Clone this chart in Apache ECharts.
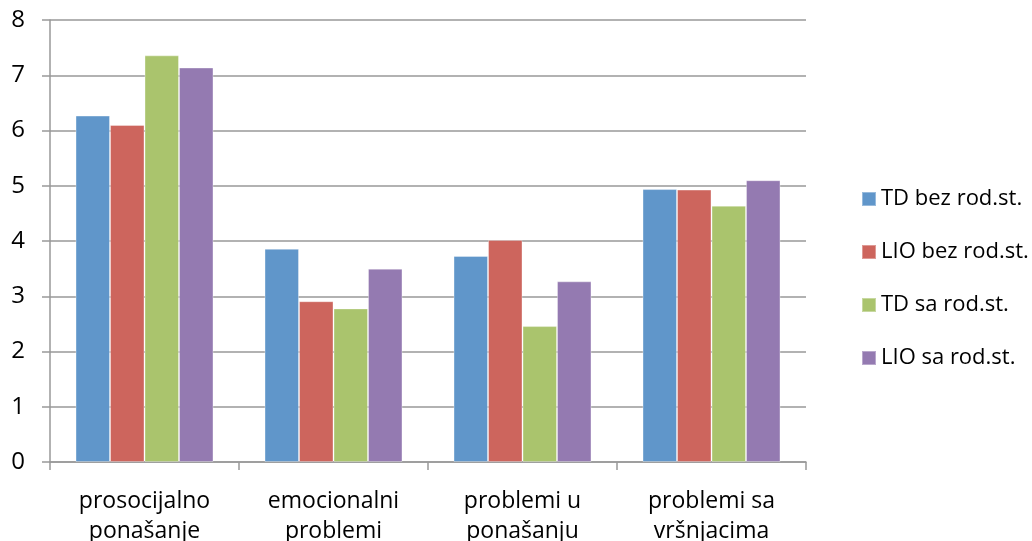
<!DOCTYPE html>
<html>
<head>
<meta charset="utf-8">
<script src="https://cdn.jsdelivr.net/npm/echarts@6/dist/echarts.min.js"></script>
<style>
  html, body { margin: 0; padding: 0; background: #fff; }
  #chart { width: 1032px; height: 541px; }
</style>
</head>
<body>
<div id="chart"></div>
<script>
// data
var categories = ['prosocijalno\nponašanje', 'emocionalni\nproblemi', 'problemi u\nponašanju', 'problemi sa\nvršnjacima']
var seriesNames = ['TD bez rod.st.', 'LIO bez rod.st.', 'TD sa rod.st.', 'LIO sa rod.st.']
var tdBez = [6.27, 3.86, 3.73, 4.94]
var lioBez = [6.10, 2.91, 4.02, 4.93]
var tdSa = [7.36, 2.78, 2.46, 4.64]
var lioSa = [7.14, 3.50, 3.27, 5.10]
var yTicks = [0, 1, 2, 3, 4, 5, 6, 7, 8]

var colors = ['#6096CA', '#CD655D', '#AAC46D', '#947AB1']
var values = [tdBez, lioBez, tdSa, lioSa]
var font = '"Open Sans", sans-serif'

var chart = echarts.init(document.getElementById('chart'))

var option = {
  animation: false,
  color: colors,
  grid: {
    left: 50,
    right: 226,
    top: 20,
    bottom: 79,
    outerBoundsMode: 'none'
  },
  legend: {
    orient: 'vertical',
    left: 856,
    top: 183,
    itemWidth: 14,
    itemHeight: 14,
    itemGap: 31,
    icon: 'rect',
    textStyle: {
      fontFamily: font,
      fontSize: 22,
      lineHeight: 22,
      color: '#000'
    },
    data: seriesNames
  },
  xAxis: {
    type: 'category',
    data: categories,
    axisLine: { lineStyle: { color: '#999', width: 1.5 } },
    axisTick: { show: true, length: 8, lineStyle: { color: '#999', width: 1.5 } },
    axisLabel: {
      margin: 24,
      fontFamily: font,
      fontSize: 23,
      lineHeight: 30,
      color: '#000'
    }
  },
  yAxis: {
    type: 'value',
    min: yTicks[0],
    max: yTicks[yTicks.length - 1],
    interval: 1,
    axisLine: { show: true, lineStyle: { color: '#999', width: 1.5 } },
    axisTick: { show: true, length: 8, lineStyle: { color: '#999', width: 1.5 } },
    splitLine: { lineStyle: { color: '#999', width: 1.5 } },
    axisLabel: {
      margin: 25,
      fontFamily: font,
      fontSize: 24,
      color: '#000'
    }
  },
  series: seriesNames.map(function (name, i) {
    return {
      name: name,
      type: 'bar',
      data: values[i],
      barGap: '0%',
      barCategoryGap: '27%',
      itemStyle: {
        color: colors[i],
        borderColor: 'rgba(255,255,255,0.35)',
        borderWidth: 1
      }
    }
  })
}

chart.setOption(option)
</script>
</body>
</html>
